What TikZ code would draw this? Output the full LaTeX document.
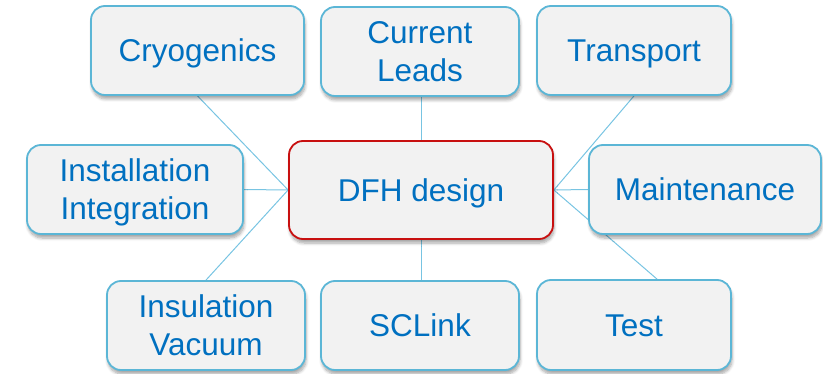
\documentclass[tikz,border=0pt]{standalone}
\usepackage{fontspec}
\setmainfont{Liberation Sans}
\usetikzlibrary{shadows.blur,calc}
\pgfdeclarelayer{background}
\pgfsetlayers{background,main}
\definecolor{boxblue}{RGB}{91,182,214}
\definecolor{linkblue}{RGB}{120,196,226}
\definecolor{hubred}{RGB}{200,16,16}
\definecolor{txtblue}{RGB}{0,112,192}
\definecolor{boxfill}{RGB}{242,242,242}
\tikzset{
  topic/.style={draw=boxblue, line width=1.8pt, fill=boxfill, rounded corners=14pt,
    align=center, text=txtblue, inner sep=0pt,
    font=\fontsize{31.5}{38}\selectfont, text depth=0pt, text height=22.7pt,
    blur shadow={shadow xshift=1pt, shadow yshift=-4pt, shadow blur steps=6,
      shadow blur radius=3pt, shadow opacity=35}},
  twoline/.style={text height=60.7pt},
  hub/.style={topic, draw=hubred},
  link/.style={draw=linkblue, line width=1pt}
}
\begin{document}
\begin{tikzpicture}[x=1pt,y=-1pt]
\useasboundingbox (0,0) rectangle (823,374);
% satellite topics around the design hub
\node[topic, minimum width=213pt, minimum height=89pt] (cryo)   at (197.5,50.5) {Cryogenics};
\node[topic, twoline, minimum width=198pt, minimum height=89pt] (leads)  at (420,51.5) {Current\\Leads};
\node[topic, minimum width=194pt, minimum height=89pt] (trans)  at (634,50.5)   {Transport};
\node[topic, twoline, minimum width=216pt, minimum height=89pt] (inst)   at (135,189.5) {Installation\\Integration};
\node[topic, minimum width=232pt, minimum height=89pt] (maint)  at (705,189.5)  {Maintenance};
\node[topic, twoline, minimum width=198pt, minimum height=89pt] (insul)  at (206,325.5) {Insulation\\Vacuum};
\node[topic, minimum width=198pt, minimum height=89pt] (sclink) at (420,325.5)  {SCLink};
\node[topic, minimum width=194pt, minimum height=90pt] (test)   at (634,325)    {Test};
% the design hub
\node[hub, minimum width=264pt, minimum height=98pt] (dfh) at (421,190) {DFH design};
% links from the hub to every topic, kept behind the boxes
\path (test.north) ++(23,0) coordinate (testin);
\begin{pgfonlayer}{background}
  \draw[link] (dfh.west) -- (cryo.south);
  \draw[link] (dfh.west) -- (inst.east);
  \draw[link] (dfh.west) -- (insul.north);
  \draw[link] (dfh.north) -- (dfh.north |- leads.south);
  \draw[link] (dfh.south) -- (dfh.south |- sclink.north);
  \draw[link] (dfh.east) -- (trans.south);
  \draw[link] (dfh.east) -- (maint.west);
  \draw[link] (dfh.east) -- (testin);
\end{pgfonlayer}
\end{tikzpicture}
\end{document}
